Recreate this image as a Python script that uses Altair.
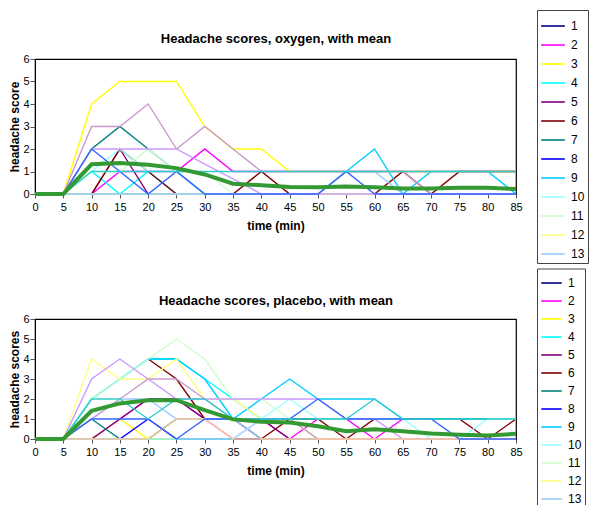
import altair as alt
import pandas as pd

times = list(range(0, 90, 5))
subjects = list(range(1, 19))
legend_subjects = list(range(1, 14))
colors = ["#000080", "#FF00FF", "#FFFF00", "#00FFFF", "#800080", "#800000",
          "#008080", "#0000FF", "#00CCFF", "#99FFFF", "#CCFFCC", "#FFFF80",
          "#99CCFF", "#CC99CC", "#CC99FF", "#FFCC99", "#3366FF", "#33CCCC"]
N = None

oxygen = {
    1: [0, 0, 0, 0, 0, 0, 0, 0, 0, 0, 0, 0, 0, 0, 0, 0, 0, 0],
    2: [0, 0, 0, 1, 1, 1, 2, 1, 1, 1, 1, 1, 1, 1, 1, 1, 1, 1],
    3: [0, 0, 4, 5, 5, 5, 3, 2, 2, 1, 1, 1, 1, 1, 1, 1, 1, 1],
    4: [0, 0, 1, 0, 1, 0, 0, 0, 0, 0, 0, 0, 0, 0, 0, 0, 0, 0],
    5: [0, 0, 0, 2, 0, 0, 0, 0, 0, 0, 0, 0, 0, 0, 0, 0, 0, 0],
    6: [0, 0, 0, 2, 1, 0, 0, 0, 1, 0, 0, 0, 0, 1, 0, 1, 1, 1],
    7: [0, 0, 2, 3, 2, 1, 0, 0, 0, 0, 0, 0, 0, 0, 0, 0, 0, 0],
    8: [0, 0, 0, 0, 0, 0, 0, 0, 0, 0, 0, 0, 0, 0, 0, 0, 0, 0],
    9: [0, 0, 0, 0, 0, 0, 0, 0, 0, 0, 0, 1, 2, 0, 1, 1, 1, 0],
    10: [0, 0, 1, 2, 1, 1, 0, 0, 0, 0, 0, 0, 0, 0, 0, 0, 0, 0],
    11: [0, 0, 1, 1, 2, 1, 1, 0, 0, 0, 0, 0, 0, 0, 0, 0, 0, 0],
    12: [0, 0, 0, 0, 0, 0, 0, 0, 0, 0, 0, 0, 0, 0, 0, 0, 0, 0],
    13: [0, 0, 0, 0, 0, 0, 0, 0, 0, 0, 0, 1, 1, 0, 0, 0, 0, 0],
    14: [0, 0, 3, 3, 4, 2, 3, 2, 1, 1, 1, 1, 1, 1, 0, 0, 0, 0],
    15: [0, 0, 2, 2, 2, 2, 1.33, 0.67, 0, 0, 0, 0, 0, 0, 0, 0, 0, 0],
    16: [N, N, N, N, N, N, N, N, N, N, N, N, N, 1, 1, 1, 1, 1],
    17: [0, 0, 2, 1, 0, 1, 0, 0, 0, 0, 0, 1, 0, 0, 0, 0, 0, 0],
    18: [0, 0, 1, 1, 1, 1, 1, 1, 1, 1, 1, 1, 1, 1, 1, 1, 1, 1],
}
oxygen_mean = [0, 0, 1.32, 1.38, 1.3, 1.15, 0.87, 0.46, 0.39, 0.31,
               0.3, 0.33, 0.3, 0.24, 0.24, 0.28, 0.28, 0.22]

placebo = {
    1: [0, 0, 0, 0, 0, 0, 0, 0, 0, 0, 0, 0, 0, 0, 0, 0, 0, 0],
    2: [0, 0, 0, 1, 2, 2, 1, 0, 1, 0, 1, 1, 0, 1, 1, 1, 1, 1],
    3: [0, 0, 0, 1, 0, 0, 0, 0, 0, 0, 0, 0, 0, 0, 0, 0, 0, 0],
    4: [0, 0, 2, 3, 4, 4, 3, 2, 1, 1, 1, 1, 1, 1, 1, 1, 1, 1],
    5: [0, 0, 0, 1, 2, 2, 1, 1, 1, 0, 0, 0, 0, 0, 0, 0, 0, 0],
    6: [N, N, N, N, 4, 3, 1, 1, 0, 1, 1, 0, 1, 1, 1, 1, 0, 1],
    7: [0, 0, 1, 0, 0, 1, 1, 1, 1, 1, 1, 1, 1, 1, 1, 1, 1, 1],
    8: [0, 0, 0, 0, 1, 0, 0, 0, 0, 0, 0, 0, 0, 0, 0, 0, 0, 0],
    9: [0, 0, 2, 3, 4, 4, 3, 1, 2, 3, 2, 2, 2, 1, 1, 1, 1, 1],
    10: [0, 0, 0, 0, 0, 0, 0, 0, 1, 2, 1, 1, 1, 1, 0, 0, 1, 1],
    11: [0, 0, 2, 3, 4, 5, 4, 2, 2, 1, 0, 0, 0, 0, 0, 0, 0, 0],
    12: [0, 0, 4, 3, 3, 4, 2, 2, 1, 1, 0, 0, 0, 0, 0, 0, 0, 0],
    13: [0, 0, 1, 2, 2, 1, 1, 1, 0, 0, 0, 0, 0, 0, 0, 0, 0, 0],
    14: [0, 0, 1, 2, 3, 3, 2, 1, 1, 1, 0, 0, 0, 0, 0, 0, 0, 0],
    15: [0, 0, 3, 4, 3, 2, 2, 2, 2, 2, 2, 1, 1, 0, 0, 0, 0, 0],
    16: [0, 0, 0, 0, 0, 1, 1, 0, 0, 0, 0, 0, 0, 0, 0, 0, 0, 0],
    17: [0, 0, 1, 1, 1, 0, 1, 1, 1, 1, 2, 1, 1, 1, 1, 0, 0, 0],
    18: [0, 0, 2, 2, 1, 2, 2, 1, 1, 1, 1, 1, 2, 1, 1, 1, 1, 1],
}
placebo_mean = [0, 0, 1.41, 1.78, 1.94, 1.94, 1.44, 0.98, 0.86, 0.82,
                0.64, 0.39, 0.49, 0.39, 0.27, 0.21, 0.18, 0.26]

FONT = "Liberation Sans"


def to_long(d):
    rows = []
    for s, vals in d.items():
        for t, v in zip(times, vals):
            rows.append({"subject": s, "time": t, "score": v})
    return pd.DataFrame(rows)


def panel(series, mean, title, ytitle, height, legend_y, sym_size, title_pad):
    df = to_long(series)
    mdf = pd.DataFrame({"time": times, "score": mean})
    xscale = alt.Scale(domain=[0, 85], nice=False)
    x = alt.X("time:Q", scale=xscale,
              axis=alt.Axis(values=times, title="time (min)", grid=False,
                            tickSize=4, labelPadding=3, titlePadding=8,
                            labelFontSize=11, titleFontSize=12,
                            labelFlush=False))
    x_top = alt.X("time:Q", scale=xscale,
                  axis=alt.Axis(orient="top", title=title, grid=False,
                                labels=False, ticks=False, domain=False,
                                titlePadding=title_pad, titleFontSize=13))
    y = alt.Y("score:Q", scale=alt.Scale(domain=[0, 6], nice=False),
              axis=alt.Axis(values=list(range(7)), title=ytitle, grid=False,
                            tickSize=5, labelPadding=1, titlePadding=1,
                            labelFontSize=11, titleFontSize=12))
    lines = alt.Chart(df).mark_line(strokeWidth=1.4).encode(
        x=x, y=y,
        color=alt.Color("subject:N",
                        scale=alt.Scale(domain=subjects, range=colors),
                        legend=alt.Legend(
                            title=None, orient="none", legendX=502,
                            legendY=legend_y, values=legend_subjects,
                            symbolType="stroke", symbolSize=sym_size,
                            symbolStrokeWidth=1.6, labelFontSize=12,
                            labelFont=FONT, labelColor="black",
                            labelExpr="datum.label + '      '",
                            strokeColor="#444", fillColor="white",
                            padding=3, rowPadding=0, labelOffset=5)),
    )
    mean_line = alt.Chart(mdf).mark_line(color="#339933", strokeWidth=4).encode(
        x=x_top, y=y)
    return alt.layer(lines, mean_line).resolve_axis(x="independent").properties(
        width=481, height=height)


top = panel(oxygen, oxygen_mean, "Headache scores, oxygen, with mean",
            "headache score", 135, -49, 560, 14)
bottom = panel(placebo, placebo_mean, "Headache scores, placebo, with mean",
               "headache scores", 120, -50.5, 420, 11.5)

chart = alt.vconcat(top, bottom, spacing=2).resolve_scale(
    color="independent").properties(padding=0).configure_view(
    stroke="black", strokeWidth=1.2).configure_axis(
    domainColor="black", tickColor="#555", labelColor="black",
    titleColor="black", labelFont=FONT, titleFont=FONT,
    titleFontWeight="bold")

chart.save("out.html", embed_options={"renderer": "svg", "actions": False})
